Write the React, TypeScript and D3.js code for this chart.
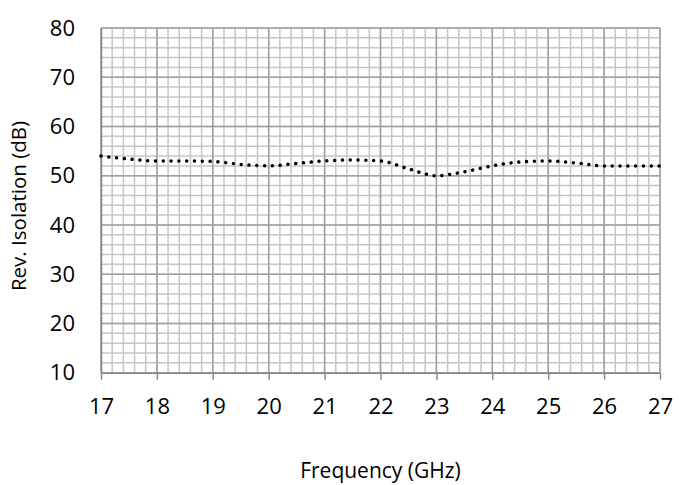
import React, { useEffect, useRef } from 'react';
import * as d3 from 'd3';

// Reverse isolation vs frequency
const frequencies = [17, 17.5, 18, 18.5, 19, 19.5, 20, 20.5, 21, 21.5, 22, 22.5, 23, 23.5, 24, 24.5, 25, 25.5, 26, 26.5, 27];
const isolation = [54.0, 53.4, 53.0, 53.0, 52.9, 52.3, 52.0, 52.5, 53.0, 53.2, 53.0, 51.4, 50.0, 50.8, 52.0, 52.8, 53.0, 52.6, 52.0, 52.0, 52.0];

const xTicks = [17, 18, 19, 20, 21, 22, 23, 24, 25, 26, 27];
const yTicks = [10, 20, 30, 40, 50, 60, 70, 80];

const xTitle = 'Frequency (GHz)';
const yTitle = 'Rev. Isolation (dB)';

const App: React.FC = () => {
  const svgRef = useRef<SVGSVGElement>(null);

  useEffect(() => {
    if (!svgRef.current) return;

    const width = 683;
    const height = 485;
    const margin = { top: 28, right: 23, bottom: 112.3, left: 101 };
    const font = '"Open Sans", "Noto Sans", sans-serif';

    const svg = d3.select(svgRef.current);
    svg.selectAll('*').remove();

    const x = d3.scaleLinear()
      .domain([17, 27])
      .range([margin.left, width - margin.right]);

    const y = d3.scaleLinear()
      .domain([10, 80])
      .range([height - margin.bottom, margin.top]);

    const [x0, x1] = x.range();
    const [y0, y1] = y.range();

    // Minor grid (0.2 GHz / 2 dB)
    const minor = svg.append('g').attr('stroke', '#c6c6c6').attr('stroke-width', 1.5);
    x.ticks(50).forEach(v => {
      minor.append('line').attr('x1', x(v)).attr('x2', x(v)).attr('y1', y0).attr('y2', y1);
    });
    y.ticks(35).forEach(v => {
      minor.append('line').attr('x1', x0).attr('x2', x1).attr('y1', y(v)).attr('y2', y(v));
    });

    // Major grid
    const major = svg.append('g').attr('stroke', '#a0a0a0').attr('stroke-width', 1.5);
    xTicks.forEach(v => {
      major.append('line').attr('x1', x(v)).attr('x2', x(v)).attr('y1', y0).attr('y2', y1);
    });
    yTicks.forEach(v => {
      major.append('line').attr('x1', x0).attr('x2', x1).attr('y1', y(v)).attr('y2', y(v));
    });

    // Axes
    const xAxis = svg.append('g')
      .attr('transform', `translate(0,${y0})`)
      .call(d3.axisBottom(x).tickValues(xTicks).tickSize(7).tickPadding(19).tickSizeOuter(0));
    xAxis.select('.domain').attr('stroke', '#898989').attr('stroke-width', 1.5);
    xAxis.selectAll('.tick line').attr('stroke', '#898989').attr('stroke-width', 1.5);
    xAxis.selectAll('text')
      .attr('fill', '#000')
      .attr('font-family', font)
      .attr('font-size', 22);

    const yAxis = svg.append('g')
      .attr('transform', `translate(${x0},0)`)
      .call(d3.axisLeft(y).tickValues(yTicks).tickSize(0).tickPadding(26).tickSizeOuter(0));
    yAxis.select('.domain').attr('stroke', '#898989').attr('stroke-width', 1.5);
    yAxis.selectAll('text')
      .attr('fill', '#000')
      .attr('font-family', font)
      .attr('font-size', 22);

    // Dotted smooth line
    const line = d3.line<number>()
      .x((_, i) => x(frequencies[i]))
      .y(d => y(d))
      .curve(d3.curveMonotoneX);

    svg.append('path')
      .datum(isolation)
      .attr('fill', 'none')
      .attr('stroke', '#000')
      .attr('stroke-width', 3.5)
      .attr('stroke-linecap', 'round')
      .attr('stroke-dasharray', '0.01 7.8')
      .attr('d', line);

    // Titles
    svg.append('text')
      .attr('x', (x0 + x1) / 2)
      .attr('y', 478)
      .attr('text-anchor', 'middle')
      .attr('font-family', font)
      .attr('font-size', 21)
      .attr('fill', '#000')
      .text(xTitle);

    svg.append('text')
      .attr('transform', 'translate(25.5,206) rotate(-90)')
      .attr('text-anchor', 'middle')
      .attr('font-family', font)
      .attr('font-size', 20.5)
      .attr('fill', '#000')
      .text(yTitle);
  }, []);

  return (
    <div style={{ position: 'fixed', left: 0, top: 0, background: '#fff' }}>
      <svg ref={svgRef} width={683} height={485} style={{ display: 'block' }} />
    </div>
  );
};

export default App;
